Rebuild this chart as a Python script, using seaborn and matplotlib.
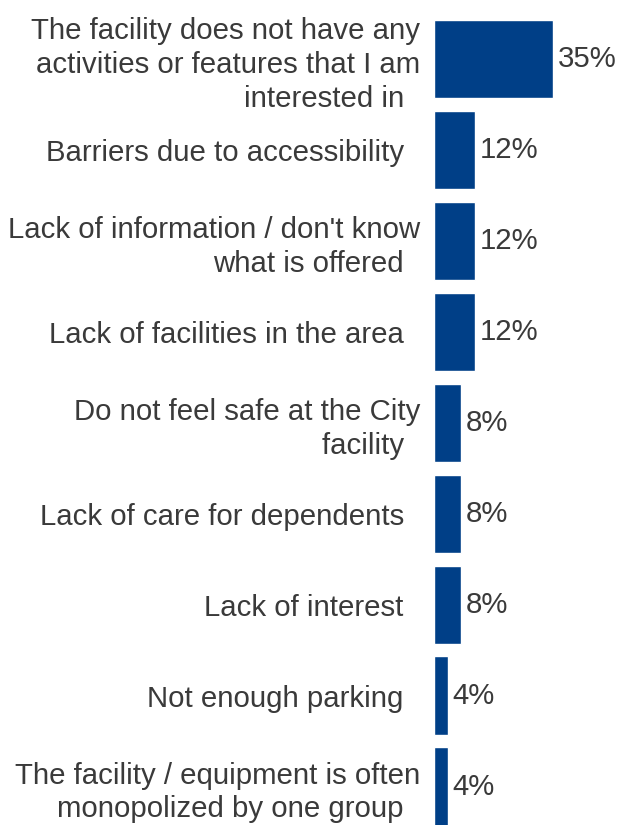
import matplotlib
matplotlib.use("Agg")
import matplotlib.pyplot as plt
import seaborn as sns
import pandas as pd

categories = [
    "The facility does not have any\nactivities or features that I am\ninterested in  ",
    "Barriers due to accessibility  ",
    "Lack of information / don't know\nwhat is offered  ",
    "Lack of facilities in the area  ",
    "Do not feel safe at the City\nfacility  ",
    "Lack of care for dependents  ",
    "Lack of interest  ",
    "Not enough parking  ",
    "The facility / equipment is often\nmonopolized by one group  ",
]
values = [35, 12, 12, 12, 8, 8, 8, 4, 4]
value_labels = ["35%", "12%", "12%", "12%", "8%", "8%", "8%", "4%", "4%"]

sns.set_style("white")
plt.rcParams["font.family"] = ["Liberation Sans", "DejaVu Sans"]

df = pd.DataFrame({"category": categories, "value": values})

fig = plt.figure(figsize=(6.18, 8.25), dpi=100)
ax = fig.add_axes([434/618, 1 - 832/825, (604-434)/618, (832-13.5)/825])

sns.barplot(data=df, x="value", y="category", orient="h", color="#003F87",
            saturation=1, width=0.86, ax=ax)

ax.set_xlim(0, 50)
ax.set_xlabel("")
ax.set_ylabel("")
ax.set_xticks([])
for s in ax.spines.values():
    s.set_visible(False)
ax.tick_params(axis="y", length=0, pad=10, labelsize=21.2, labelcolor="#3a3a3a")
for t in ax.get_yticklabels():
    t.set_linespacing(1.27)
    t.set_horizontalalignment("right")
    t.set_multialignment("right")

for i, (v, lab) in enumerate(zip(values, value_labels)):
    ax.annotate(lab, xy=(v, i), xytext=(3.5, 0), textcoords="offset points",
                va="center", ha="left", fontsize=21.2, color="#3a3a3a")

fig.savefig("out.png", dpi=100)
